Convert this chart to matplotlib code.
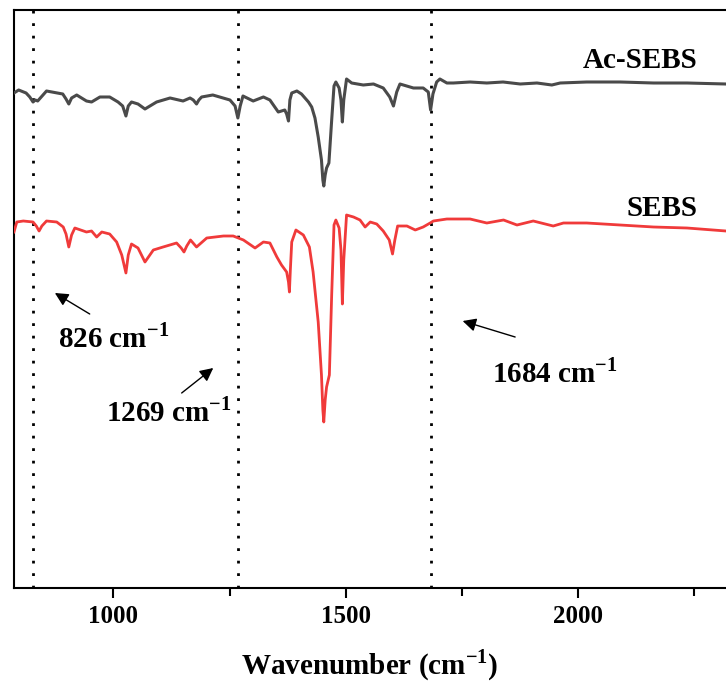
import matplotlib
matplotlib.use('Agg')
import matplotlib.pyplot as plt
import numpy as np

plt.rcParams.update({'font.family': 'Liberation Serif', 'font.weight': 'bold',
                     'mathtext.fontset': 'custom',
                     'mathtext.rm': 'Liberation Serif:bold',
                     'mathtext.bf': 'Liberation Serif:bold'})

# Ac-SEBS spectrum (wavenumber, transmittance a.u.)
AC_WN = [786, 796, 812, 820, 827, 832, 837, 856, 891, 898, 904, 910, 921, 942,
         953, 971, 992, 1010, 1020, 1027, 1032, 1039, 1053, 1068, 1093, 1122,
         1150, 1165, 1172, 1179, 1184, 1190, 1214, 1251, 1262, 1268, 1273, 1279,
         1301, 1323, 1337, 1355, 1369, 1373, 1377, 1380, 1384, 1395, 1405, 1420,
         1427, 1434, 1441, 1448, 1451, 1453, 1456, 1459, 1464, 1470, 1475, 1479,
         1486, 1490, 1493, 1496, 1502, 1513, 1538, 1560, 1581, 1595, 1603, 1610,
         1617, 1646, 1667, 1678, 1683, 1688, 1696, 1703, 1718, 1732, 1768, 1804,
         1839, 1876, 1912, 1944, 1962, 2019, 2091, 2163, 2235, 2319]
AC_T = [507, 510, 507, 503, 498, 500, 499, 509, 506, 501, 496, 502, 505, 499,
        498, 503, 503, 498, 494, 484, 494, 498, 496, 491, 498, 502,
        499, 502, 500, 496, 500, 503, 505, 500, 494, 482, 494, 504,
        499, 503, 500, 488, 490, 486, 479, 500, 507, 509, 506, 498,
        493, 482, 463, 440, 420, 414, 425, 432, 437, 480, 514, 518,
        512, 500, 478, 500, 521, 517, 515, 516, 512, 503, 494, 508,
        516, 512, 512, 508, 490, 506, 518, 521, 517, 517, 518, 517,
        518, 516, 517, 515, 517, 518, 518, 517, 517, 516]

# SEBS spectrum
SE_WN = [786, 792, 806, 827, 834, 840, 846, 856, 878, 892, 898, 904, 910, 917,
         942, 953, 964, 975, 992, 1007, 1018, 1027, 1032, 1039, 1053, 1068, 1086,
         1107, 1136, 1146, 1152, 1158, 1166, 1179, 1201, 1237, 1258, 1280, 1305,
         1323, 1337, 1352, 1362, 1373, 1377, 1379, 1381, 1384, 1393, 1409, 1422,
         1430, 1441, 1448, 1451, 1453, 1456, 1459, 1465, 1470, 1475, 1479, 1486,
         1490, 1493, 1496, 1502, 1517, 1531, 1542, 1553, 1567, 1581, 1594, 1601,
         1606, 1612, 1632, 1650, 1667, 1682, 1689, 1718, 1768, 1804, 1840, 1869,
         1904, 1947, 1969, 2019, 2091, 2163, 2235, 2319]
SE_T = [368, 378, 379, 378, 374, 369, 374, 379, 378, 373, 366, 353, 365, 372,
        368, 369, 363, 368, 366, 358, 345, 327, 345, 356, 352, 338, 350,
        353, 357, 352, 348, 354, 360, 353, 362, 364, 364, 360, 352,
        358, 357, 343, 335, 328, 318, 308, 330, 358, 370, 365, 353,
        328, 278, 225, 190, 178, 200, 213, 225, 305, 375, 380, 372,
        350, 296, 340, 385, 383, 380, 373, 378, 376, 369, 360, 346,
        360, 374, 374, 370, 373, 377, 379, 381, 381, 377, 380, 375,
        379, 374, 377, 377, 375, 373, 372, 369]

MARKS = [826, 1269, 1684]
MARK_LABELS = ['826', '1269', '1684']
# (text left x, text y, arrow tail, arrow head) in data units
ANNOT = [((880, 262), (949, 286), (874, 307)),
         ((985, 188), (1147, 207), (1215, 232)),
         ((1815, 227), (1865, 263), (1752, 279))]

fig = plt.figure(figsize=(7.26, 6.84), dpi=100)
ax = fig.add_axes([14/726, 96/684, 712/726, 578/684])

ax.plot(AC_WN, AC_T, color='#4a4a4a', lw=2.2, zorder=3, solid_joinstyle='round')
ax.plot(SE_WN, SE_T, color='#f03a3a', lw=2.0, zorder=3, solid_joinstyle='round')

for m in MARKS:
    ax.axvline(m, color='black', lw=2.0, ls=(0, (1, 3.5)), zorder=2)

for lab, (txt, tail, head) in zip(MARK_LABELS, ANNOT):
    ax.annotate('', xy=head, xytext=tail,
                arrowprops=dict(arrowstyle='-|>', color='black', lw=1.0,
                                mutation_scale=20, shrinkA=0, shrinkB=0))
    ax.text(txt[0], txt[1], lab + r' cm$^{\mathbf{-1}}$', fontsize=21,
            fontweight='bold', ha='left', va='center')

ax.text(2257, 539, 'Ac-SEBS', fontsize=21, fontweight='bold', ha='right', va='center')
ax.text(2257, 391, 'SEBS', fontsize=21, fontweight='bold', ha='right', va='center')

ax.set_xlim(786, 2319)
ax.set_ylim(12, 590)
ax.set_xticks([1000, 1500, 2000])
ax.set_xticks([1250, 1750, 2250], minor=True)
ax.tick_params(axis='x', which='both', direction='out', width=1.5, labelsize=18, pad=5)
ax.tick_params(axis='x', which='major', length=7)
ax.tick_params(axis='x', which='minor', length=6)
ax.set_yticks([])
for lbl in ax.get_xticklabels():
    lbl.set_fontweight('bold')
ax.spines['right'].set_visible(False)
for s in ['left', 'top', 'bottom']:
    ax.spines[s].set_linewidth(1.5)
ax.set_xlabel(r'Wavenumber (cm$^{\mathbf{-1}}$)', fontsize=21, fontweight='bold', labelpad=14)

fig.savefig('out.png', dpi=100, facecolor='white')
plt.close()
